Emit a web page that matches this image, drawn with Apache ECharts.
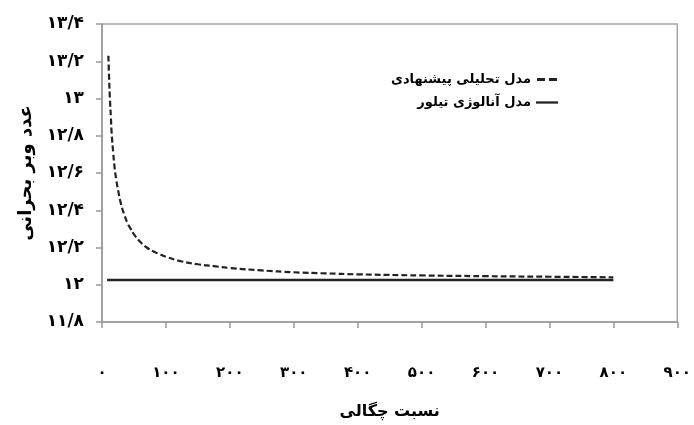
<!DOCTYPE html>
<html>
<head>
<meta charset="utf-8">
<script src="https://cdn.jsdelivr.net/npm/echarts@6/dist/echarts.min.js"></script>
<style>html,body{margin:0;padding:0;background:#fff;}#c{width:694px;height:425px;}</style>
</head>
<body>
<div id="c"></div>
<script>
// Data
const seriesNames = ['مدل تحلیلی پیشنهادی', 'مدل آنالوژی تیلور'];
const densityRatio = [10, 11, 12.5, 14, 15, 17.5, 20, 22.5, 25, 30, 35, 40, 45, 50, 60, 70, 80, 90, 100, 125, 150, 175, 200, 250, 300, 350, 400, 500, 600, 700, 800];
const analyticalWeber = [13.23, 13.12, 12.99, 12.89, 12.82, 12.71, 12.62, 12.56, 12.51, 12.43, 12.375, 12.33, 12.30, 12.27, 12.23, 12.20, 12.18, 12.165, 12.15, 12.125, 12.11, 12.10, 12.09, 12.077, 12.067, 12.061, 12.056, 12.05, 12.046, 12.043, 12.04];
const taylorX = [8, 100, 200, 300, 400, 500, 600, 700, 800];
const taylorWeber = [12.025, 12.025, 12.025, 12.025, 12.025, 12.025, 12.025, 12.025, 12.025];
const xTickLabels = ['۰', '۱۰۰', '۲۰۰', '۳۰۰', '۴۰۰', '۵۰۰', '۶۰۰', '۷۰۰', '۸۰۰', '۹۰۰'];
const yTickLabels = ['۱۱/۸', '۱۲', '۱۲/۲', '۱۲/۴', '۱۲/۶', '۱۲/۸', '۱۳', '۱۳/۲', '۱۳/۴'];
const xTitle = 'نسبت چگالی';
const yTitle = 'عدد وبر بحرانی';

const FONT = 'DejaVu Sans';
const dashIcon = 'path://M0,0H8V3H0Z M12,0H20V3H12Z';
const solidIcon = 'path://M0,0H24V2.5H0Z';
const chart = echarts.init(document.getElementById('c'), null, {renderer: 'canvas'});
chart.setOption({
  animation: false,
  backgroundColor: '#fff',
  grid: {left: 102, right: 16, top: 24, bottom: 102, show: true, borderColor: '#a6a6a6', borderWidth: 1.5, backgroundColor: 'transparent'},
  legend: {
    orient: 'vertical', align: 'right', left: 386, top: 68, itemWidth: 22, itemGap: 10,
    data: [
      {name: seriesNames[0], icon: dashIcon},
      {name: seriesNames[1], icon: solidIcon}
    ],
    itemHeight: 3,
    textStyle: {fontFamily: FONT, fontWeight: 'bold', fontSize: 13, color: '#000'}
  },
  xAxis: {
    type: 'value', min: 0, max: 900, interval: 100,
    name: xTitle, nameLocation: 'middle', nameGap: 82,
    nameTextStyle: {fontFamily: FONT, fontWeight: 'bold', fontSize: 16, color: '#000'},
    axisLine: {lineStyle: {color: '#999', width: 1.5}},
    axisTick: {show: true, length: 6, lineStyle: {color: '#999', width: 1.5}},
    axisLabel: {margin: 44, fontFamily: FONT, fontWeight: 'bold', fontSize: 15, color: '#000',
      formatter: v => xTickLabels[Math.round(v / 100)]},
    splitLine: {show: false}
  },
  yAxis: {
    type: 'value', min: 11.8, max: 13.4, interval: 0.2,
    name: yTitle, nameLocation: 'middle', nameGap: 62, nameRotate: 90,
    nameTextStyle: {fontFamily: FONT, fontWeight: 'bold', fontSize: 18, color: '#000'},
    axisLine: {show: true, lineStyle: {color: '#999', width: 1.5}},
    axisTick: {show: true, length: 6, lineStyle: {color: '#999', width: 1.5}},
    axisLabel: {margin: 18, fontFamily: FONT, fontWeight: 'bold', fontSize: 17, color: '#000',
      formatter: v => yTickLabels[Math.round((v - 11.8) / 0.2)]},
    splitLine: {show: false}
  },
  series: [
    {name: seriesNames[0], type: 'line', smooth: true, showSymbol: false, symbol: 'none',
      data: densityRatio.map((x, i) => [x, analyticalWeber[i]]),
      lineStyle: {color: '#222', width: 2.2, type: [6, 3]}, itemStyle: {color: '#222'}},
    {name: seriesNames[1], type: 'line', showSymbol: false, symbol: 'none',
      data: taylorX.map((x, i) => [x, taylorWeber[i]]),
      lineStyle: {color: '#222', width: 2.5, type: 'solid'}, itemStyle: {color: '#222'}}
  ]
});
</script>
</body>
</html>
